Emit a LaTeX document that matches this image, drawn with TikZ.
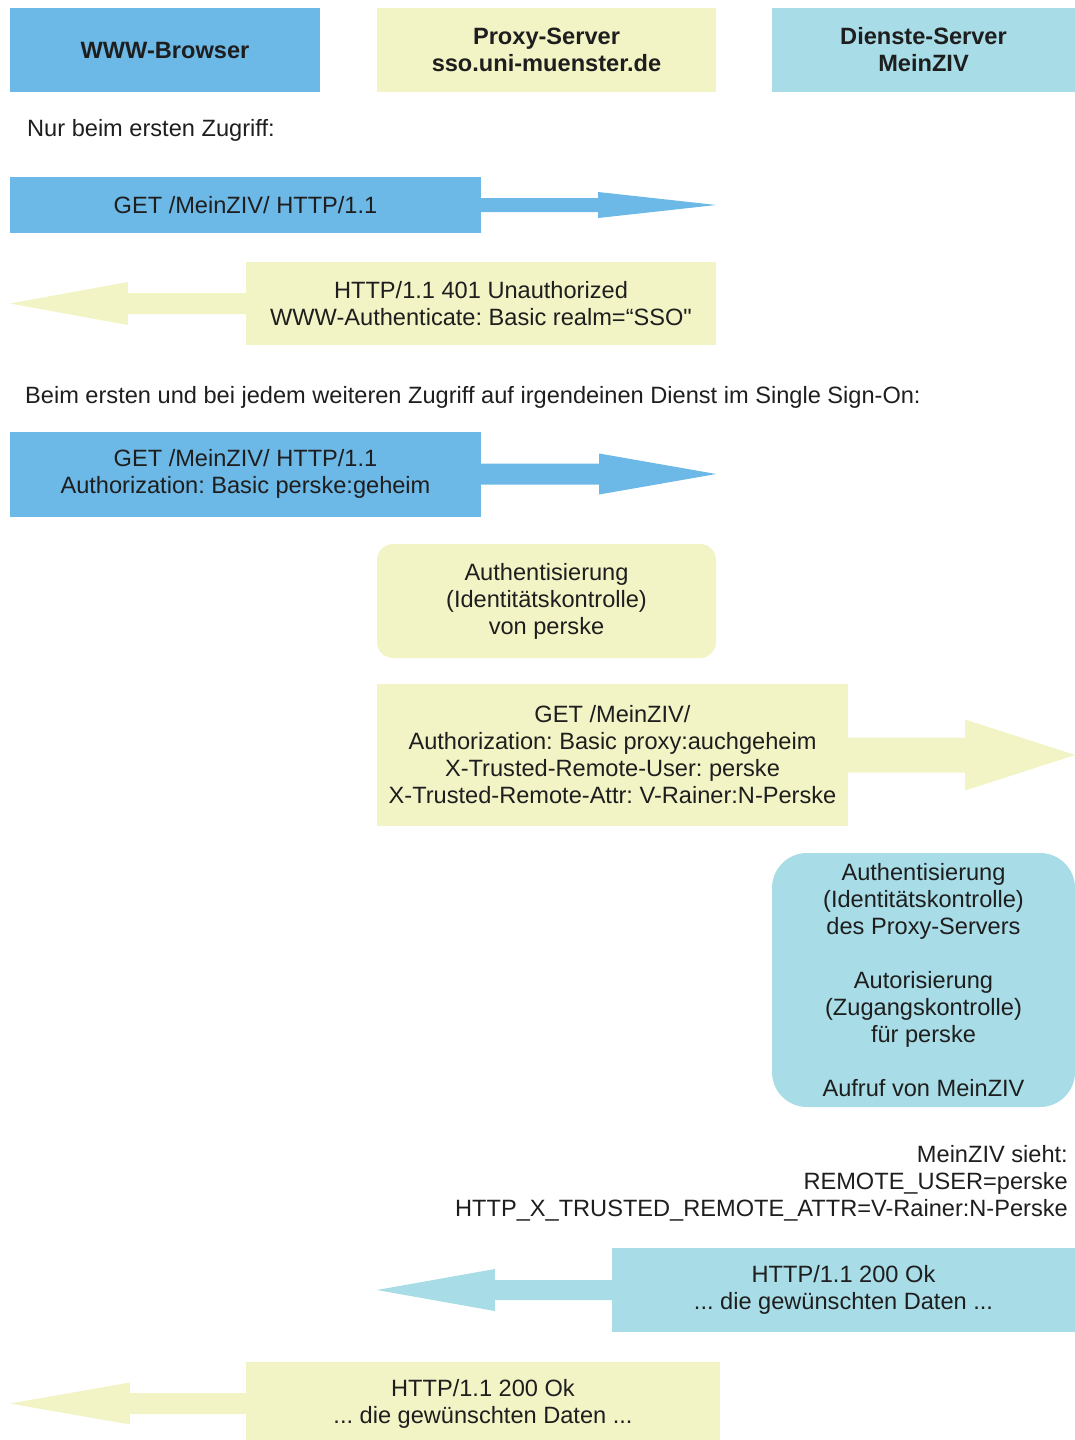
\documentclass[tikz,border=0pt]{standalone}
\usepackage{fontspec}
\setmainfont{Liberation Sans}
\usetikzlibrary{calc}
\frenchspacing

\definecolor{browserblue}{RGB}{108,184,230}
\definecolor{proxyyellow}{RGB}{242,244,198}
\definecolor{servicecyan}{RGB}{168,220,230}
\definecolor{inkgray}{RGB}{30,30,30}

% Block arrow: colour, start anchor, tip coordinate,
% shaft half-width, head half-width, offset of head base from the tip
\newcommand\msgarrow[6]{%
  \fill[#1] ($(#2)+(0,-#4)$) -- ($(#3)+(#6,-#4)$) -- ($(#3)+(#6,-#5)$) -- (#3)
    -- ($(#3)+(#6,#5)$) -- ($(#3)+(#6,#4)$) -- ($(#2)+(0,#4)$) -- cycle;}

\tikzset{
  txt/.style={font=\fontsize{23.6}{27}\selectfont, text=inkgray, align=center, inner sep=0pt},
  hdr/.style={txt, font=\fontsize{23.6}{27}\selectfont\bfseries},
  msgbox/.style={txt, fill=#1},
}

\begin{document}
\begin{tikzpicture}[x=1pt,y=-1pt]
\useasboundingbox (0,0) rectangle (1075,1440);
\clip (0,0) rectangle (1075,1440);

% column headers
\node[hdr, fill=browserblue, minimum width=310pt, minimum height=84pt] (browser) at (165,50) {WWW-Browser};
\node[hdr, fill=proxyyellow, minimum width=339pt, minimum height=84pt] (proxy) at (546.5,50) {Proxy-Server\\sso.uni-muenster.de};
\node[hdr, fill=servicecyan, minimum width=303pt, minimum height=84pt] (dienst) at (923.5,50) {Dienste-Server\\MeinZIV};

% first access only
\node[txt, anchor=base west] (firstonly) at (27,136) {Nur beim ersten Zugriff:};

\node[msgbox=browserblue, minimum width=471pt, minimum height=56pt] (req1) at (245.5,205) {GET /MeinZIV/ HTTP/1.1};
\coordinate (tip1) at (req1.east -| proxy.east);
\msgarrow{browserblue}{req1.east}{tip1}{7}{13}{-118}

\node[msgbox=proxyyellow, minimum width=470pt, minimum height=83pt] (resp401) at (481,303.5) {HTTP/1.1 401 Unauthorized\\WWW-Authenticate: Basic realm=“SSO\textquotedbl};
\coordinate (tip2) at (resp401.west -| browser.west);
\msgarrow{proxyyellow}{resp401.west}{tip2}{10.5}{21.5}{118}

% every access
\node[txt, anchor=base west] (everyaccess) at (25,403) {Beim ersten und bei jedem weiteren Zugriff auf irgendeinen Dienst im Single Sign-On:};

\node[msgbox=browserblue, minimum width=471pt, minimum height=85pt] (req2) at (245.5,474) {GET /MeinZIV/ HTTP/1.1\\Authorization: Basic perske:geheim};
\coordinate (tip3) at (req2.east -| proxy.east);
\msgarrow{browserblue}{req2.east}{tip3}{10.5}{20.5}{-117}

\node[msgbox=proxyyellow, rounded corners=16pt, minimum width=339pt, minimum height=114pt] (authproxy) at (546.5,601) {Authentisierung\\(Identitätskontrolle)\\von perske};

\node[msgbox=proxyyellow, minimum width=471pt, minimum height=142pt] (fwd) at (612.5,755) {GET /MeinZIV/\\Authorization: Basic proxy:auchgeheim\\X-Trusted-Remote-User: perske\\X-Trusted-Remote-Attr: V-Rainer:N-Perske};
\coordinate (tip4) at (fwd.east -| dienst.east);
\msgarrow{proxyyellow}{fwd.east}{tip4}{17.5}{35.5}{-110}

\node[msgbox=servicecyan, rounded corners=35pt, minimum width=303pt, minimum height=254pt] (authdienst) at (923.5,980) {Authentisierung\\(Identitätskontrolle)\\des Proxy-Servers\\[27pt]Autorisierung\\(Zugangskontrolle)\\für perske\\[27pt]Aufruf von MeinZIV};

\node[txt, align=right, anchor=east] (sees) at (1068,1183) {MeinZIV sieht:\\REMOTE\_USER=perske\\HTTP\_X\_TRUSTED\_REMOTE\_ATTR=V-Rainer:N-Perske};

\node[msgbox=servicecyan, minimum width=463pt, minimum height=84pt] (resp200a) at (843.5,1290) {HTTP/1.1 200 Ok\\... die gewünschten Daten ...};
\coordinate (tip5) at (resp200a.west -| proxy.west);
\msgarrow{servicecyan}{resp200a.west}{tip5}{10}{21}{118}

\node[msgbox=proxyyellow, minimum width=474pt, minimum height=83pt] (resp200b) at (483,1403.5) {HTTP/1.1 200 Ok\\... die gewünschten Daten ...};
\coordinate (tip6) at (resp200b.west -| browser.west);
\msgarrow{proxyyellow}{resp200b.west}{tip6}{10.5}{21}{120}
\end{tikzpicture}
\end{document}
